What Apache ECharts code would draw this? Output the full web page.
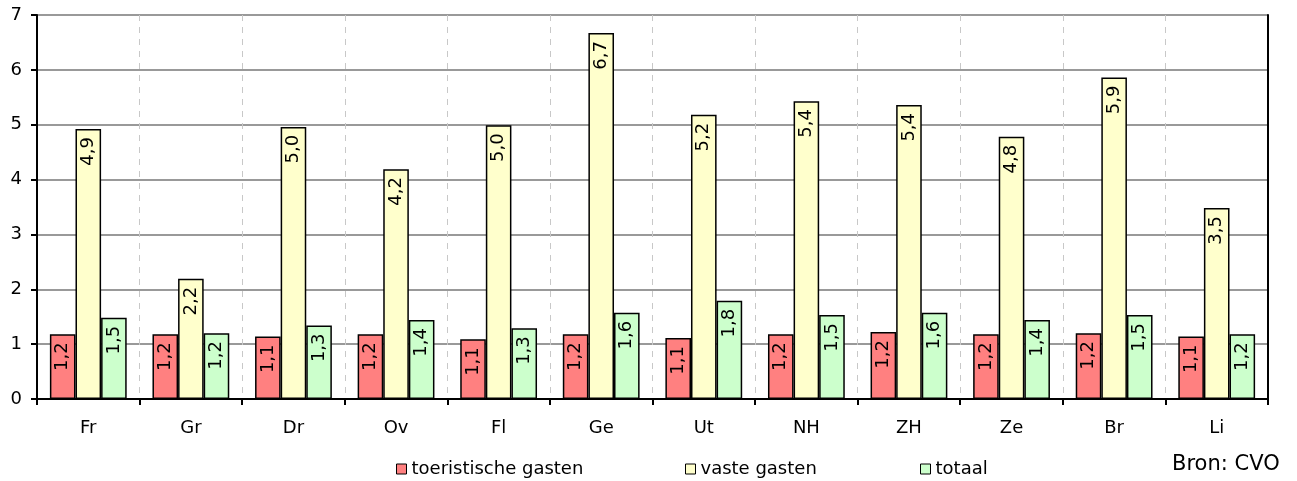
<!DOCTYPE html>
<html>
<head>
<meta charset="utf-8">
<script src="https://cdn.jsdelivr.net/npm/echarts@6/dist/echarts.min.js"></script>
<style>
  html, body { margin: 0; padding: 0; background: #fff; }
  #chart { width: 1297px; height: 481px; }
</style>
</head>
<body>
<div id="chart"></div>
<script>
// provincies
const categories = ['Fr', 'Gr', 'Dr', 'Ov', 'Fl', 'Ge', 'Ut', 'NH', 'ZH', 'Ze', 'Br', 'Li']
const toeristisch = [1.18, 1.18, 1.14, 1.18, 1.09, 1.18, 1.11, 1.18, 1.22, 1.18, 1.2, 1.14]
const vast = [4.92, 2.19, 4.96, 4.19, 4.99, 6.67, 5.18, 5.43, 5.36, 4.78, 5.86, 3.48]
const totaal = [1.48, 1.2, 1.34, 1.44, 1.29, 1.57, 1.79, 1.53, 1.57, 1.44, 1.53, 1.18]
const yTicks = [0, 1, 2, 3, 4, 5, 6, 7]

const font = 'DejaVu Sans'

function barLabel () {
  return {
    show: true,
    position: 'insideTop',
    distance: 8,
    rotate: 90,
    align: 'right',
    verticalAlign: 'middle',
    fontFamily: font,
    fontSize: 18,
    color: '#000',
    formatter: function (p) {
      return p.value.toFixed(1).replace('.', ',')
    }
  }
}

function makeSeries (name, data, color) {
  return {
    name: name,
    type: 'bar',
    data: data,
    barWidth: 25.6,
    barGap: '0%',
    itemStyle: { color: color, borderColor: '#000', borderWidth: 1.5 },
    label: barLabel(),
    emphasis: { disabled: true }
  }
}

function makeLegend (name, left) {
  return {
    data: [name],
    left: left,
    top: 455,
    icon: 'rect',
    itemWidth: 10,
    itemHeight: 10,
    itemStyle: { borderColor: '#000', borderWidth: 1 },
    textStyle: { fontFamily: font, fontSize: 18, color: '#000' }
  }
}

let chart = echarts.init(document.getElementById('chart'))
let option = {
  animation: false,
  backgroundColor: '#fff',
  grid: {
    left: 37,
    right: 29,
    top: 15,
    bottom: 82
  },
  legend: [
    makeLegend('toeristische gasten', 391),
    makeLegend('vaste gasten', 680),
    makeLegend('totaal', 915)
  ],
  xAxis: [{
    type: 'category',
    data: categories,
    axisLine: { lineStyle: { color: '#000', width: 2 } },
    axisTick: { show: true, length: 6, lineStyle: { color: '#000', width: 2 } },
    axisLabel: { margin: 20, fontFamily: font, fontSize: 18, color: '#000' },
    splitLine: { show: true, interval: 0, lineStyle: { color: '#c8c8c8', type: [6, 6], width: 1 } }
  }, {
    // bovenrand van het plotvlak
    type: 'category',
    data: categories,
    position: 'top',
    axisLine: { show: true, lineStyle: { color: '#000', width: 2 } },
    axisTick: { show: false },
    axisLabel: { show: false },
    splitLine: { show: false },
    z: 3
  }],
  yAxis: [{
    type: 'value',
    min: yTicks[0],
    max: yTicks[yTicks.length - 1],
    interval: 1,
    axisLine: { show: true, lineStyle: { color: '#000', width: 2 } },
    axisTick: { show: true, length: 6, lineStyle: { color: '#000', width: 2 } },
    axisLabel: { margin: 15, fontFamily: font, fontSize: 18, color: '#000' },
    splitLine: { lineStyle: { color: '#999', width: 2 } }
  }, {
    // rechterrand
    type: 'value',
    min: yTicks[0],
    max: yTicks[yTicks.length - 1],
    interval: 1,
    position: 'right',
    axisLine: { show: true, lineStyle: { color: '#000', width: 2 } },
    axisTick: { show: false },
    axisLabel: { show: false },
    splitLine: { show: false },
    z: 3
  }],
  graphic: [{
    type: 'text',
    left: 1172,
    top: 454,
    style: { text: 'Bron: CVO', fontFamily: font, fontSize: 21, fill: '#000' }
  }],
  series: [
    makeSeries('toeristische gasten', toeristisch, '#ff8080'),
    makeSeries('vaste gasten', vast, '#ffffcc'),
    makeSeries('totaal', totaal, '#ccffcc')
  ]
}
chart.setOption(option, true)
</script>
</body>
</html>
